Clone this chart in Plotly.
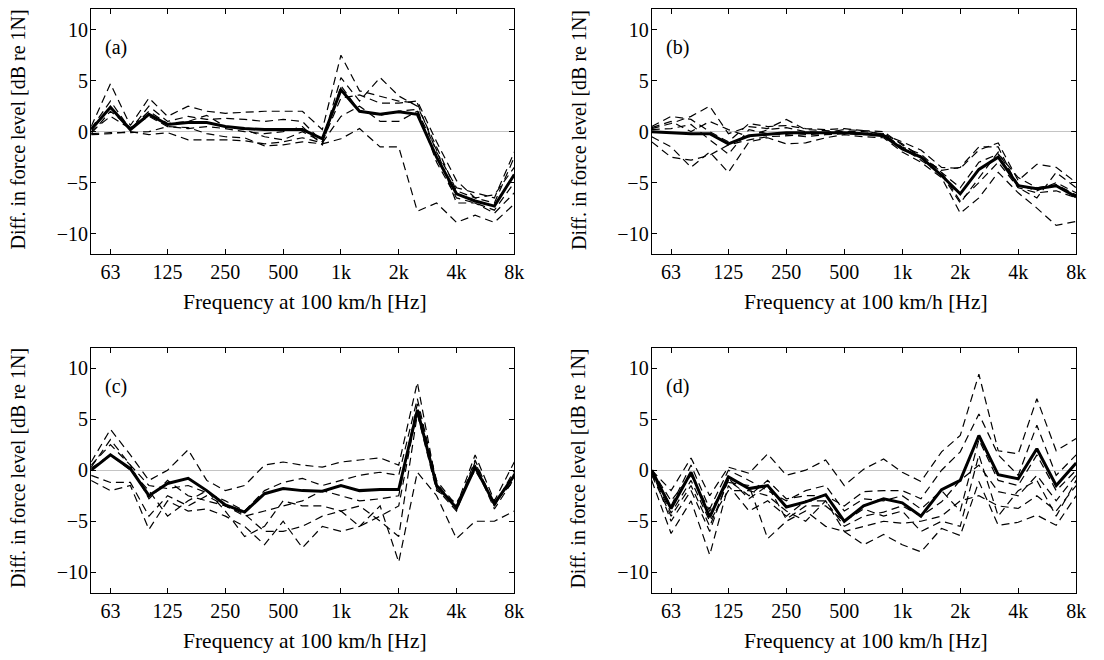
import plotly.graph_objects as go

freqs = [50, 63, 80, 100, 125, 160, 200, 250, 315, 400, 500, 630, 800,
         1000, 1250, 1600, 2000, 2500, 3150, 4000, 5000, 6300, 8000]
tick_vals = [63, 125, 250, 500, 1000, 2000, 4000, 8000]
tick_text = ["63", "125", "250", "500", "1k", "2k", "4k", "8k"]
y_ticks = [-10, -5, 0, 5, 10]

# ---- panel (a) ----
a_mean = [0.2, 2.4, 0.2, 1.7, 0.7, 0.9, 0.9, 0.5, 0.3, 0.2, 0.2, 0.2, -0.7,
          4.1, 2.0, 1.7, 1.95, 1.7, -2.5, -6.1, -6.8, -7.3, -4.2]
a_runs = [
    [0.5, 4.7, 0.6, 3.3, 1.5, 2.5, 2.0, 1.8, 1.9, 2.0, 2.0, 2.0, 0.2, 7.5, 4.0, 3.5, 3.0, 2.8, -2.0, -5.5, -6.0, -6.5, -2.0],
    [0.3, 3.0, 0.2, 2.5, 1.0, 1.5, 1.2, 1.3, 1.2, 1.0, 1.2, 1.0, -1.0, 5.3, 3.0, 5.3, 3.5, 2.5, -1.5, -5.8, -6.5, -6.2, -3.5],
    [-0.2, 2.0, 0.4, 1.5, 0.5, 0.3, 0.5, 0.3, 0.0, -0.2, 0.0, 0.5, -1.3, 4.5, 2.0, 1.6, 2.0, 2.2, -3.0, -6.5, -7.0, -7.7, -5.0],
    [-0.3, -0.2, 0.0, -0.3, -0.1, -0.8, -0.8, -0.8, -0.9, -1.2, -1.0, -0.6, -1.1, 1.5, 2.5, 1.0, 1.0, 2.0, -1.8, -7.0, -7.0, -8.0, -6.0],
    [-0.2, -0.1, -0.1, 0.0, 0.5, 0.4, -0.2, -0.5, -0.6, -1.4, -1.3, -1.0, -1.2, -0.7, 0.3, -1.5, -1.5, -7.8, -7.0, -8.9, -8.2, -8.9, -7.1],
    [0.0, 1.5, 0.3, 2.0, 0.8, 1.0, 1.6, 0.5, 0.2, -0.5, -0.8, 0.0, -1.0, 3.3, 3.6, 2.8, 2.8, 3.0, -1.0, -4.8, -6.5, -7.0, -2.5],
]

# ---- panel (b) ----
b_mean = [0.0, -0.1, -0.2, -0.2, -1.2, -0.4, -0.25, -0.1, -0.1, -0.1, -0.1, -0.2, -0.4,
          -1.7, -2.5, -4.3, -6.1, -3.7, -2.5, -5.3, -5.6, -5.3, -6.4]
b_runs = [
    [0.5, 1.5, 1.2, 0.0, -1.0, 0.8, 0.5, 0.6, 0.3, 0.2, 0.3, 0.1, -0.3, -1.0, -1.8, -3.5, -3.6, -1.8, -1.1, -4.8, -3.2, -3.5, -5.0],
    [-1.0, -2.5, -2.8, -2.3, -1.3, -0.8, -0.5, -0.4, -0.3, -0.2, -0.1, -0.2, -0.3, -1.5, -2.2, -4.0, -6.8, -5.0, -3.0, -5.5, -6.0, -5.8, -6.5],
    [0.3, 0.8, 1.5, 2.5, -0.2, 0.5, 0.3, 1.2, 0.2, 0.1, 0.0, 0.0, -0.2, -1.2, -2.5, -3.8, -3.5, -1.5, -1.5, -5.5, -6.5, -4.0, -5.5],
    [-0.5, -1.5, -3.5, -2.0, -4.0, -1.0, -0.6, -1.2, -1.1, -0.6, -0.3, -0.5, -0.6, -2.0, -3.0, -4.5, -8.0, -6.5, -4.0, -6.0, -7.5, -9.2, -8.8],
    [0.2, 0.3, 0.7, -0.8, -2.2, 0.2, -0.2, -0.3, -0.5, -0.3, -0.2, -0.3, -0.2, -1.6, -2.8, -4.2, -7.0, -4.5, -2.0, -5.2, -5.8, -5.0, -6.0],
    [0.4, 1.0, 0.0, 1.0, 0.2, -0.5, 0.2, 0.4, 0.0, -0.1, 0.2, 0.1, 0.0, -1.3, -2.4, -4.0, -5.5, -3.0, -2.2, -4.5, -5.5, -5.2, -6.2],
]

# ---- panel (c) ----
c_mean = [0.0, 1.5, 0.15, -2.5, -1.3, -0.8, -2.0, -3.4, -4.1, -2.3, -1.8, -2.0, -2.05,
          -1.5, -2.0, -1.9, -1.9, 5.9, -1.5, -3.7, 0.3, -3.3, -0.5]
c_runs = [
    [0.8, 4.0, 1.5, -1.0, 0.0, 2.0, -1.0, -2.0, -1.5, 0.5, 0.8, 0.5, 0.3, 0.8, 1.0, 1.2, 0.5, 8.6, -1.5, -3.5, 1.5, -3.0, 0.8],
    [0.3, 3.0, 0.5, -1.5, -1.8, -1.5, -2.2, -3.0, -4.0, -2.0, -1.2, -0.8, -1.5, -1.0, -0.5, -0.2, -0.5, 7.0, -1.2, -3.8, 1.0, -3.5, 0.0],
    [-0.5, -1.2, -1.2, -4.5, -2.5, -3.5, -2.5, -3.5, -4.5, -4.0, -3.5, -3.0, -2.0, -2.5, -3.0, -2.8, -2.5, 6.5, -1.0, -3.5, 0.5, -3.8, -0.8],
    [-1.0, -2.0, -1.5, -5.8, -3.0, -4.0, -3.8, -4.5, -5.5, -7.3, -5.0, -7.6, -5.5, -6.0, -5.5, -3.5, -9.0, -0.2, -2.5, -6.7, -5.0, -5.0, -4.0],
    [0.2, 1.5, 0.0, -2.0, -4.5, -3.0, -2.0, -4.0, -6.5, -5.5, -3.0, -3.5, -3.5, -4.0, -3.5, -5.0, -6.5, 5.5, -2.0, -3.2, 0.0, -3.2, -1.0],
    [0.5, 2.5, 0.5, -2.8, -1.0, -2.5, -3.0, -3.5, -4.3, -6.0, -6.0, -5.5, -4.5, -4.0, -5.5, -4.5, -3.5, 6.0, -1.8, -4.0, 0.8, -3.5, -0.3],
]

# ---- panel (d) ----
d_mean = [0.0, -3.75, -0.2, -4.6, -0.65, -1.8, -1.5, -3.6, -3.1, -2.4, -5.0, -3.5, -2.8,
          -3.2, -4.5, -1.9, -1.0, 3.4, -0.45, -0.85, 2.1, -1.5, 0.7]
d_runs = [
    [0.0, -2.0, 1.2, -2.5, 0.3, -0.3, 1.6, -0.5, 0.0, 1.0, -1.5, 0.1, 1.1, -0.2, -1.1, 1.8, 3.4, 9.4, 1.9, 1.6, 7.0, 1.9, 3.1],
    [-0.5, -4.5, -1.5, -5.5, -1.0, -2.5, -1.0, -2.8, -2.5, -2.5, -3.5, -2.1, -2.0, -2.0, -2.8, 0.0, 1.8, 5.5, 1.5, -0.5, 4.4, -0.5, 1.5],
    [-1.0, -6.2, -3.0, -8.3, -1.5, -4.0, -3.0, -4.5, -3.0, -3.0, -5.5, -4.5, -4.1, -3.5, -4.5, -3.1, -1.0, 0.5, -2.1, -2.5, -0.5, -3.0, -0.5],
    [0.0, -3.0, -0.5, -4.0, -1.2, -1.5, -6.7, -5.0, -4.0, -5.5, -6.0, -7.3, -6.3, -7.3, -8.0, -5.7, -6.4, -1.1, -5.4, -5.1, -4.4, -5.4, -2.5],
    [-0.3, -4.2, -1.0, -5.0, -2.0, -2.0, -2.5, -4.0, -5.0, -3.0, -6.0, -5.5, -5.0, -5.2, -5.0, -4.5, -3.0, -2.5, -3.5, -3.75, -2.5, -4.0, -1.5],
    [-0.2, -3.5, 0.5, -3.8, 0.0, -1.0, -2.0, -3.0, -2.0, -1.5, -4.0, -2.8, -3.0, -2.5, -3.8, -2.0, -4.0, 3.0, -1.0, -1.5, 1.5, -2.0, 0.0],
    [0.0, -5.0, -2.0, -6.0, -0.8, -2.8, -1.5, -4.8, -3.5, -3.5, -5.0, -3.8, -4.5, -4.0, -6.0, -5.0, -5.5, 1.5, -4.5, -2.0, -1.0, -4.5, -1.0],
]

panels = [("(a)", a_mean, a_runs), ("(b)", b_mean, b_runs),
          ("(c)", c_mean, c_runs), ("(d)", d_mean, d_runs)]

W, H = 1104, 660
boxes = [(92, 519, 9.3, 254), (657.7, 1086, 9.3, 254),
         (92, 519, 347.7, 592.7), (657.7, 1086, 347.7, 592.7)]

FONT = "Liberation Serif, Times New Roman, serif"
FS = 20
FS_X = 21.5

fig = go.Figure()
layout = dict(width=W, height=H, autosize=False,
              margin=dict(l=0, r=0, t=0, b=0),
              paper_bgcolor="white", plot_bgcolor="white",
              showlegend=False, font=dict(family=FONT, size=FS, color="black"))
annotations = []

for i, (label, mean, runs) in enumerate(panels):
    n = "" if i == 0 else str(i + 1)
    xa, ya = "x" + n, "y" + n
    l, r, t, b = boxes[i]
    layout["xaxis" + n] = dict(
        type="log", range=[1.69897, 3.90309], domain=[l / W, r / W],
        anchor=ya, tickvals=tick_vals, ticktext=tick_text,
        ticks="inside", ticklen=5, tickwidth=1, tickcolor="black",
        showline=True, linecolor="black", linewidth=1.2, mirror="ticks",
        showgrid=False, zeroline=False,
        tickfont=dict(family=FONT, size=FS, color="black"))
    layout["yaxis" + n] = dict(
        range=[-12, 12], domain=[1 - b / H, 1 - t / H], anchor=xa,
        tickvals=y_ticks, ticklabelstandoff=-2,
        ticks="inside", ticklen=5, tickwidth=1, tickcolor="black",
        showline=True, linecolor="black", linewidth=1.2, mirror="ticks",
        showgrid=False, zeroline=True, zerolinecolor="#c4c4c4", zerolinewidth=1,
        tickfont=dict(family=FONT, size=FS, color="black"))
    for run in runs:
        fig.add_trace(go.Scatter(x=freqs, y=run, mode="lines", xaxis=xa, yaxis=ya,
                                 line=dict(color="black", width=1.2, dash="8px,5px"),
                                 hoverinfo="skip"))
    fig.add_trace(go.Scatter(x=freqs, y=mean, mode="lines", xaxis=xa, yaxis=ya,
                             line=dict(color="black", width=3), hoverinfo="skip"))
    annotations.append(dict(text=label, xref=xa + " domain", yref=ya + " domain",
                            x=0.028, y=1 - 38.4 / (b - t), xanchor="left", yanchor="middle",
                            showarrow=False, font=dict(family=FONT, size=FS, color="black")))
    annotations.append(dict(text="Frequency at 100 km/h [Hz]", xref="paper", yref="paper",
                            x=((l + r) / 2 + 2) / W, y=1 - (b + 48) / H,
                            xanchor="center", yanchor="middle", showarrow=False,
                            font=dict(family=FONT, size=FS_X, color="black")))
    annotations.append(dict(text="Diff. in force level [dB re 1N]", xref="paper", yref="paper",
                            x=(l - 74) / W, y=1 - ((t + b) / 2 - 2) / H, textangle=-90,
                            xanchor="center", yanchor="middle", showarrow=False,
                            font=dict(family=FONT, size=FS, color="black")))

layout["annotations"] = annotations
fig.update_layout(**layout)
fig.write_html("out.html")
